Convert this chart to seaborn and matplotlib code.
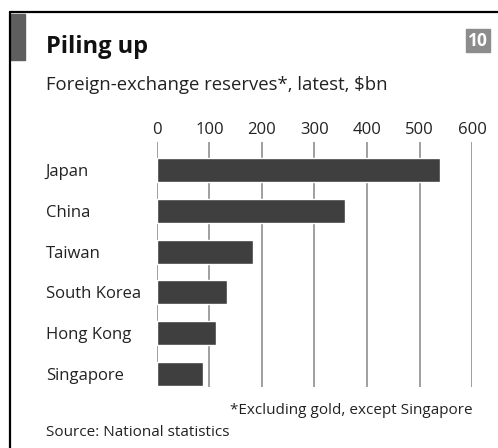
import matplotlib
matplotlib.use("Agg")
import matplotlib.pyplot as plt
import matplotlib.patches as mpatches
import seaborn as sns
import pandas as pd

# === DATA ===
countries = ["Japan", "China", "Taiwan", "South Korea", "Hong Kong", "Singapore"]
reserves = [538, 359, 183, 134, 113, 88]
ticks = [0, 100, 200, 300, 400, 500, 600]

df = pd.DataFrame({"country": countries, "reserves": reserves})

sns.set_style("white")
plt.rcParams["font.family"] = ["Open Sans", "DejaVu Sans"]

fig = plt.figure(figsize=(4.98, 4.48), dpi=100)
ax = fig.add_axes([0.315, 0.136, 0.633, 0.547])

# gridlines first so bars sit above them
for t in ticks:
    ax.axvline(t, color="#8f8f8f", lw=1.2, zorder=0)

sns.barplot(data=df, x="reserves", y="country", orient="h", color="#3f3f3f",
            width=0.59, saturation=1, ax=ax, zorder=2)

ax.set_xlim(0, 600)
ax.set_ylim(5.33, -0.70)
ax.set_xticks(ticks)
ax.xaxis.tick_top()
ax.tick_params(axis="x", length=0, pad=3, labelsize=12, colors="#222222")
ax.tick_params(axis="y", length=0, pad=80, labelsize=12, colors="#222222")
for lbl in ax.get_yticklabels():
    lbl.set_ha("left")
ax.set_xlabel("")
ax.set_ylabel("")
for s in ax.spines.values():
    s.set_visible(False)

# frame and decorations
fig.add_artist(plt.Line2D([10 / 498, 10 / 498], [0, 1 - 12 / 448], color="black", lw=1.6))
fig.add_artist(plt.Line2D([10 / 498, 1], [1 - 12 / 448, 1 - 12 / 448], color="black", lw=1.6))
fig.add_artist(mpatches.Rectangle((10 / 498, 1 - 60 / 448), 15 / 498, 46 / 448,
                                  color="#5e5e5e", transform=fig.transFigure))
fig.add_artist(mpatches.Rectangle((466 / 498, 1 - 52 / 448), 24 / 498, 23 / 448,
                                  color="#8c8c8c", transform=fig.transFigure))
fig.text(478 / 498, 1 - 41 / 448, "10", color="white", fontsize=12.5, fontweight="bold",
         ha="center", va="center")

fig.text(46 / 498, 1 - 47 / 448, "Piling up", fontsize=17, fontweight="bold",
         ha="left", va="center", color="#111111")
fig.text(46 / 498, 1 - 85 / 448, "Foreign-exchange reserves*, latest, $bn", fontsize=13.3,
         ha="left", va="center", color="#222222")
fig.text(473 / 498, 1 - 410 / 448, "*Excluding gold, except Singapore", fontsize=11,
         ha="right", va="center", color="#222222")
fig.text(46 / 498, 1 - 432 / 448, "Source: National statistics", fontsize=11,
         ha="left", va="center", color="#222222")

fig.savefig("out.png", dpi=100)
